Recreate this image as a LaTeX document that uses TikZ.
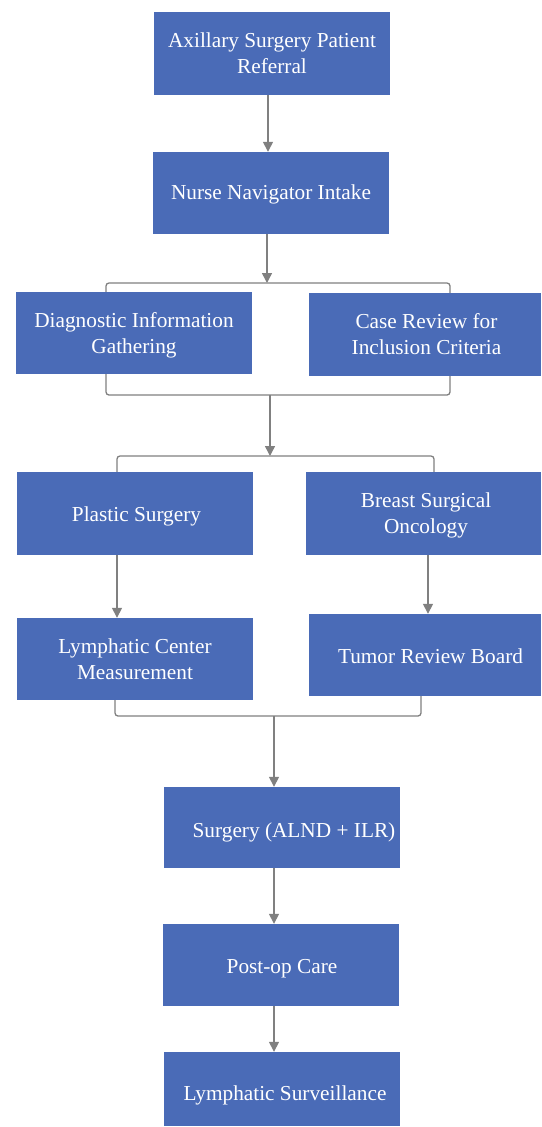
\documentclass[tikz,border=0pt]{standalone}
\usepackage{fontspec}
\setmainfont{Liberation Serif}
\newfontfamily\tnrfont{Liberation Serif}
\usetikzlibrary{arrows.meta}
\definecolor{boxblue}{RGB}{74,107,183}
\definecolor{linegray}{RGB}{128,128,128}
\begin{document}
\begin{tikzpicture}[x=1pt,y=-1pt,
  box/.style={fill=boxblue, minimum width=236pt, minimum height=82pt, inner sep=0pt},
  txt/.style={text=white, inner sep=0pt, align=center, font=\tnrfont\fontsize{21.3}{26}\selectfont},
  conn/.style={draw=linegray, line width=1.5pt},
  arr/.style={conn, -{Triangle[width=10pt,length=10pt]}},
  brk/.style={conn, line width=1.3pt, rounded corners=3pt}]
\useasboundingbox (0,0) rectangle (541,1127);

\node[box, minimum height=83pt] (ref) at (272,53.5) {};
\node[box] (nurse) at (271,193) {};
\node[box] (diag) at (134,333) {};
\node[box, minimum width=232pt, minimum height=83pt] (case) at (425,334.5) {};
\node[box, minimum height=83pt] (plastic) at (135,513.5) {};
\node[box, minimum width=235pt, minimum height=83pt] (breast) at (423.5,513.5) {};
\node[box] (lymph) at (135,659) {};
\node[box, minimum width=232pt] (tumor) at (425,655) {};
\node[box, minimum height=81pt] (surgery) at (282,827.5) {};
\node[box] (postop) at (281,965) {};
\node[box, minimum height=74pt] (surveil) at (281.5,1089) {};

\node[txt] (ref-t) at ([yshift=0pt]ref.center) {Axillary Surgery Patient\\Referral};
\node[txt] (nurse-t) at ([yshift=-1pt]nurse.center) {Nurse Navigator Intake};
\node[txt] (diag-t) at ([yshift=-2pt]diag.center) {Diagnostic Information\\Gathering};
\node[txt] (case-t) at ([xshift=1.5pt]case.center) {Case Review for\\Inclusion Criteria};
\node[txt] (plastic-t) at ([xshift=1.5pt,yshift=-2.5pt]plastic.center) {Plastic Surgery};
\node[txt] (breast-t) at ([xshift=2.5pt,yshift=-2pt]breast.center) {Breast Surgical\\Oncology};
\node[txt] (lymph-t) at (lymph.center) {Lymphatic Center\\Measurement};
\node[txt] (tumor-t) at ([xshift=5.5pt,yshift=-1pt]tumor.center) {Tumor Review Board};
\node[txt] (surgery-t) at ([xshift=12pt,yshift=-4.5pt]surgery.center) {Surgery (ALND + ILR)};
\node[txt] (postop-t) at ([xshift=1pt,yshift=-3.5pt]postop.center) {Post-op Care};
\node[txt] (surveil-t) at ([xshift=3.5pt,yshift=-6.5pt]surveil.center) {Lymphatic Surveillance};

\coordinate (b1l) at (106,283);
\coordinate (b1r) at (450,283);
\coordinate (b2l) at (106,395);
\coordinate (b2r) at (450,395);
\coordinate (b2m) at (270,395);
\coordinate (b3l) at (117,456);
\coordinate (b3r) at (434,456);
\coordinate (b3m) at (270,456);
\coordinate (b4l) at (115,716);
\coordinate (b4r) at (421,716);
\coordinate (b4m) at (274,716);

\draw[arr] ([xshift=-4pt]ref.south) -- ([xshift=-4pt]ref.south |- nurse.north);
\draw[arr] ([xshift=-4pt]nurse.south) -- ([xshift=-4pt]nurse.south |- b1l);
\draw[brk] (diag.north -| b1l) -- (b1l) -- (b1r) -- (case.north -| b1r);
\draw[brk] (diag.south -| b2l) -- (b2l) -- (b2r) -- (case.south -| b2r);
\draw[arr] (b2m) -- (b3m);
\draw[brk] (plastic.north -| b3l) -- (b3l) -- (b3r) -- (breast.north -| b3r);
\draw[arr] ([xshift=-18pt]plastic.south) -- ([xshift=-18pt]plastic.south |- lymph.north);
\draw[arr] ([xshift=4.5pt]breast.south) -- ([xshift=4.5pt]breast.south |- tumor.north);
\draw[brk] (lymph.south -| b4l) -- (b4l) -- (b4r) -- (tumor.south -| b4r);
\draw[arr] (b4m) -- (b4m |- surgery.north);
\draw[arr] ([xshift=-8pt]surgery.south) -- ([xshift=-8pt]surgery.south |- postop.north);
\draw[arr] ([xshift=-7pt]postop.south) -- ([xshift=-7pt]postop.south |- surveil.north);
\end{tikzpicture}
\end{document}
